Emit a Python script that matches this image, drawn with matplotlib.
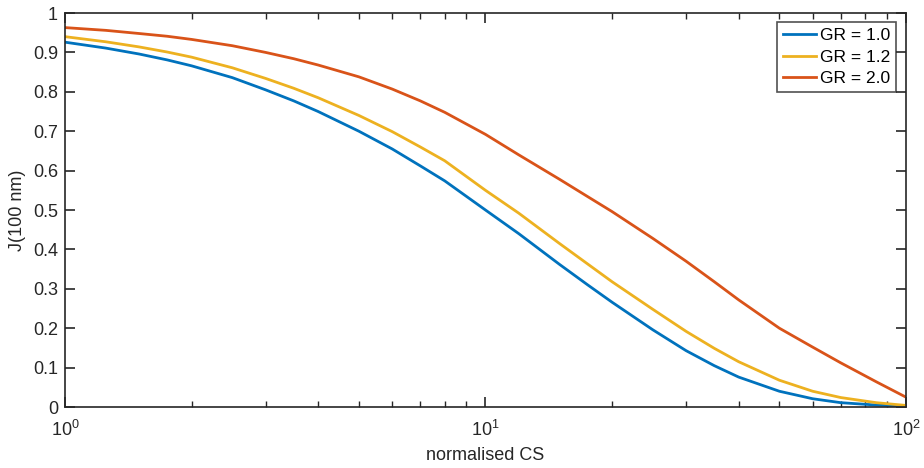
import matplotlib
matplotlib.use("Agg")
import matplotlib.pyplot as plt
from matplotlib import ticker

# values
cs = [1, 1.25, 1.5, 1.75, 2, 2.5, 3, 3.5, 4, 5, 6, 7, 8, 10, 12, 15, 17.5, 20,
      25, 30, 35, 40, 50, 60, 70, 85, 100]
j_gr10 = [0.926, 0.911, 0.896, 0.881, 0.866, 0.836, 0.805, 0.777, 0.750, 0.700,
          0.655, 0.612, 0.574, 0.500, 0.440, 0.362, 0.310, 0.266, 0.196, 0.143,
          0.105, 0.076, 0.040, 0.021, 0.011, 0.005, 0.002]
j_gr12 = [0.940, 0.927, 0.914, 0.901, 0.888, 0.861, 0.834, 0.809, 0.785, 0.740,
          0.699, 0.660, 0.625, 0.550, 0.492, 0.415, 0.363, 0.318, 0.248, 0.192,
          0.149, 0.115, 0.068, 0.040, 0.024, 0.011, 0.004]
j_gr20 = [0.963, 0.956, 0.948, 0.941, 0.933, 0.917, 0.900, 0.884, 0.868, 0.838,
          0.807, 0.777, 0.748, 0.692, 0.640, 0.578, 0.534, 0.496, 0.428, 0.370,
          0.318, 0.272, 0.200, 0.152, 0.112, 0.064, 0.025]
labels = ["GR = 1.0", "GR = 1.2", "GR = 2.0"]
yticks = [0, 0.1, 0.2, 0.3, 0.4, 0.5, 0.6, 0.7, 0.8, 0.9, 1]

plt.rcParams['font.family'] = ['Liberation Sans', 'DejaVu Sans']
plt.rcParams['mathtext.fontset'] = 'custom'
plt.rcParams['mathtext.rm'] = 'Liberation Sans'
plt.rcParams['mathtext.it'] = 'Liberation Sans'

fig = plt.figure(figsize=(9.24, 4.68), dpi=100)
ax = fig.add_axes([0.0703, 0.1303, 0.9102, 0.8419])

colours = ['#0072BD', '#EDB120', '#D95319']
for ys, lab, c in zip([j_gr10, j_gr12, j_gr20], labels, colours):
    ax.plot(cs, ys, color=c, lw=2, label=lab)

ax.set_xscale('log')
ax.set_xlim(1, 100)
ax.set_ylim(0, 1)
ax.set_yticks(yticks)
ax.yaxis.set_major_formatter(ticker.FuncFormatter(lambda v, p: "%g" % v))

edge = '#262626'
for s in ax.spines.values():
    s.set_color(edge)
    s.set_linewidth(1.2)
ax.tick_params(which='both', direction='in', top=True, right=True,
               colors=edge, labelcolor='#262626', labelsize=13)
ax.tick_params(which='major', length=7, width=1.2)
ax.tick_params(which='minor', length=4, width=1.0)
ax.tick_params(axis='y', which='major', pad=5)
ax.tick_params(axis='x', which='major', pad=9)

ax.set_xlabel('normalised CS', fontsize=13, color='#262626', labelpad=5)
ax.set_ylabel('J(100 nm)', fontsize=13, color='#262626', labelpad=5)

leg = ax.legend(loc='upper right', bbox_to_anchor=(0.9885, 0.9765), fontsize=12.5,
                frameon=True, fancybox=False, handlelength=1.9, handletextpad=0.25,
                borderpad=0.35, labelspacing=0.35, borderaxespad=0)
leg.get_frame().set_edgecolor(edge)
leg.get_frame().set_linewidth(1.2)

fig.savefig('out.png', dpi=100)
